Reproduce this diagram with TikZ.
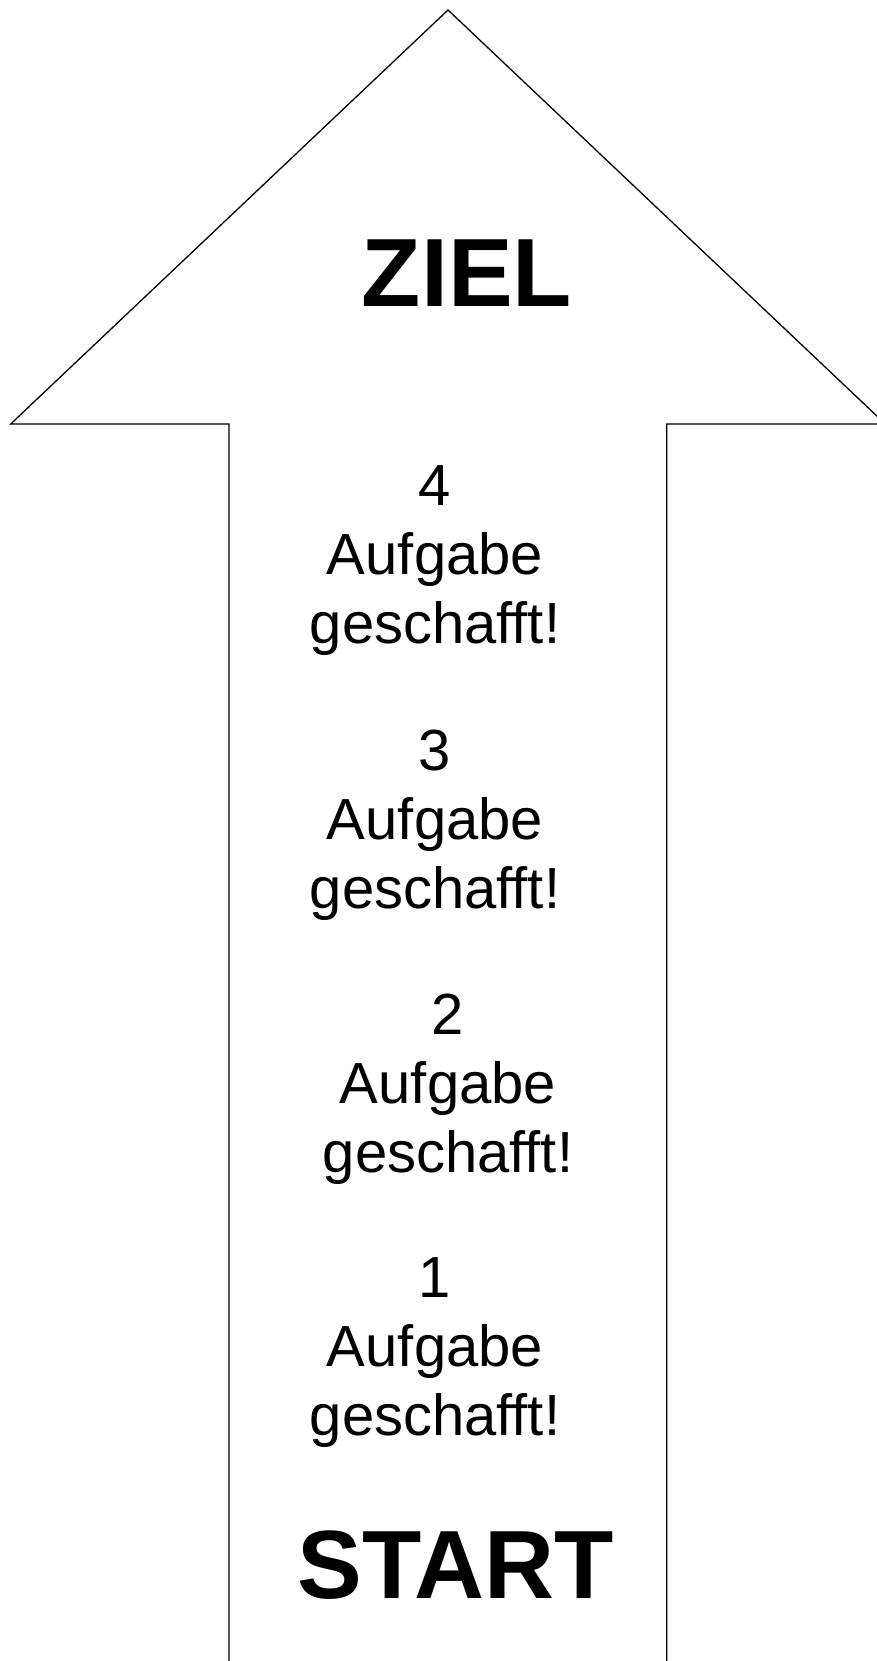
\documentclass[tikz,border=0pt]{standalone}
\usepackage{fontspec}
\setmainfont{Liberation Sans}
\begin{document}
\begin{tikzpicture}[x=1pt,y=-1pt,
  stepText/.style={align=center,inner sep=0pt,font=\fontsize{58}{69}\selectfont},
  bigText/.style={inner sep=0pt,font=\fontsize{97}{110}\selectfont\bfseries}]
\useasboundingbox (0,0) rectangle (877,1661);
\begin{scope}
\clip (0,0) rectangle (877,1661);
\draw[line width=1.3pt,line join=miter]
  (229,1670) -- (229,424) -- (10.7,424) -- (448,10) -- (885.3,424) -- (666.7,424) -- (666.7,1670);
\end{scope}
\node[bigText] (ziel) at (467,273) {ZIEL};
\node[stepText] (s4) at (435,561) {4\\Aufgabe\\geschafft!};
\node[stepText] (s3) at (435,825) {3\\Aufgabe\\geschafft!};
\node[stepText] (s2) at (448,1089) {2\\Aufgabe\\geschafft!};
\node[stepText] (s1) at (435,1353) {1\\Aufgabe\\geschafft!};
\node[bigText] (start) at (456,1565) {START};
\end{tikzpicture}
\end{document}
